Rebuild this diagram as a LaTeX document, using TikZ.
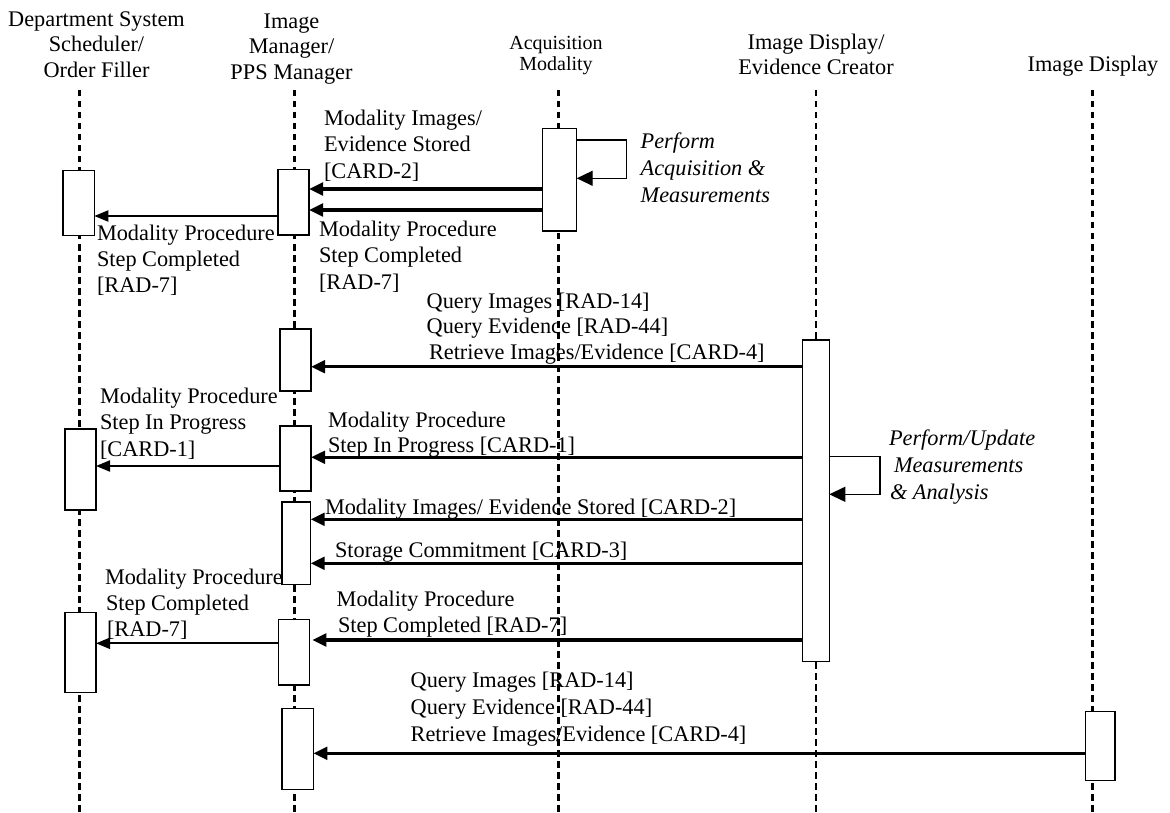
\documentclass[tikz,border=0pt]{standalone}
\usepackage{fontspec}
\setmainfont{Liberation Serif}
\usetikzlibrary{arrows.meta}
\begin{document}
\begin{tikzpicture}[x=1pt,y=-1pt,
  lbl/.style={inner sep=0pt, outer sep=0pt, align=left, anchor=north west, font=\fontsize{22.3}{26.3}\selectfont},
  hdr/.style={inner sep=0pt, outer sep=0pt, align=center, anchor=north, font=\fontsize{22.3}{25.5}\selectfont},
  act/.style={draw, fill=white, line width=1.3pt, inner sep=0pt, outer sep=0pt},
  life/.style={line width=2.6pt, dash pattern=on 6.5pt off 4.5pt},
  msg/.style={line width=3.4pt, -{Triangle[length=14pt,width=12.5pt]}},
  msgthin/.style={line width=2pt, -{Triangle[length=14pt,width=11pt]}},
  selfmsg/.style={line width=1.3pt, -{Triangle[length=16pt,width=15pt]}},
]
\useasboundingbox (0,0) rectangle (1170,813);

% headers
\node[hdr] (hdss) at (96.5,11.4) {Department System\\Scheduler/\\Order Filler};
\node[hdr] (him) at (291.5,13.4) {Image\\Manager/\\PPS Manager};
\node[hdr, font=\fontsize{20}{21.3}\selectfont] (ham) at (556,35.9) {Acquisition\\Modality};
\node[hdr] (hidec) at (816,34) {Image Display/\\Evidence Creator};
\node[hdr] (hid) at (1093,55.7) {Image Display};

% lifelines
\coordinate (dssT) at (79.3,90);   \coordinate (dssB) at (79.3,813);
\coordinate (imT) at (294.3,90);   \coordinate (imB) at (294.3,813);
\coordinate (amT) at (558.3,90);   \coordinate (amB) at (558.3,813);
\coordinate (idecT) at (816,90);   \coordinate (idecB) at (816,813);
\coordinate (idT) at (1092.7,90);  \coordinate (idB) at (1092.7,813);
\draw[life] (dssT) -- (dssB);
\draw[life] (imT) -- (imB);
\draw[life] (amT) -- (amB);
\draw[life] (idecT) -- (idecB);
\draw[life] (idT) -- (idB);

% activation boxes
\node[act, minimum width=31.3pt, minimum height=65pt] (dss1) at (78.65,203.2) {};
\node[act, minimum width=31pt, minimum height=65.3pt] (im1) at (293.5,202.35) {};
\node[act, minimum width=34pt, minimum height=102.3pt] (am1) at (559.7,179.85) {};
\node[act, minimum width=31pt, minimum height=62pt] (im2) at (295.5,360) {};
\node[act, minimum width=26.6pt, minimum height=321.7pt] (idec1) at (816,500.85) {};
\node[act, minimum width=31pt, minimum height=81pt] (dss2) at (80.5,469.5) {};
\node[act, minimum width=31pt, minimum height=65pt] (im3) at (295.5,458.5) {};
\node[act, minimum width=28.7pt, minimum height=82.7pt] (im4) at (296.35,543.35) {};
\node[act, minimum width=31pt, minimum height=80.4pt] (dss3) at (80.5,652.5) {};
\node[act, minimum width=31pt, minimum height=65.7pt] (im5) at (293.8,652.15) {};
\node[act, minimum width=31.3pt, minimum height=81pt] (im6) at (297.65,748.8) {};
\node[act, minimum width=29.3pt, minimum height=69pt] (id1) at (1100.35,746.2) {};

% messages
\draw[msg] (am1.west |- 0,189) -- (im1.east |- 0,189);
\draw[msg] (am1.west |- 0,210) -- (im1.east |- 0,210);
\draw[msgthin] (im1.west |- 0,216) -- (dss1.east |- 0,216);
\draw[selfmsg] (am1.east |- 0,140) -- ++(50,0) |- (am1.east |- 0,178.3);

\draw[msg] (idec1.west |- 0,366.7) -- (im2.east |- 0,366.7);
\draw[msg] (idec1.west |- 0,457.3) -- (im3.east |- 0,457.3);
\draw[msgthin] (im3.west |- 0,466) -- (dss2.east |- 0,466);
\draw[selfmsg] (idec1.east |- 0,456.7) -- ++(50.7,0) |- (idec1.east |- 0,494.3);
\draw[msg] (idec1.west |- 0,519.3) -- (im4.east |- 0,519.3);
\draw[msg] (idec1.west |- 0,563.3) -- (im4.east |- 0,563.3);
\draw[msg] (idec1.west |- 0,640) -- ([xshift=3pt]im5.east |- 0,640);
\draw[msgthin] (im5.west |- 0,643.3) -- (dss3.east |- 0,643.3);
\draw[msg] (id1.west |- 0,753.3) -- (im6.east |- 0,753.3);

% labels
\node[lbl] (l1) at (324,110.2) {Modality Images/\\Evidence Stored\\{[CARD-2]}};
\node[lbl] (l2) at (319,221.2) {Modality Procedure\\Step Completed\\{[RAD-7]}};
\node[lbl] (l3) at (97,224.9) {Modality Procedure\\Step Completed\\{[RAD-7]}};
\node[lbl, font=\fontsize{22.3}{27}\selectfont\itshape] (l4) at (640.7,132.9) {Perform\\Acquisition \&\\Measurements};
\node[lbl, font=\fontsize{22.3}{25.5}\selectfont] (l5) at (426.7,292.9) {Query Images [RAD-14]\\Query Evidence [RAD-44]\\\hspace*{2.3pt}Retrieve Images/Evidence [CARD-4]};
\node[lbl] (l6) at (100,388.2) {Modality Procedure\\Step In Progress\\{[CARD-1]}};
\node[lbl, font=\fontsize{22.3}{24.5}\selectfont] (l7) at (328,412.2) {Modality Procedure\\Step In Progress [CARD-1]};
\node[lbl, font=\fontsize{22.3}{27}\selectfont\itshape] (l8) at (889,430.2) {Perform/Update\\\hspace*{5pt}Measurements\\\hspace*{1pt}\& Analysis};
\node[lbl] (l9) at (325,498.9) {Modality Images/ Evidence Stored [CARD-2]};
\node[lbl] (l10) at (335,542.2) {Storage Commitment [CARD-3]};
\node[lbl] (l11) at (105,568.9) {Modality Procedure\\\hspace*{1pt}Step Completed\\\hspace*{2pt}[RAD-7]};
\node[lbl] (l12) at (336.7,591.2) {Modality Procedure\\\hspace*{1.3pt}Step Completed [RAD-7]};
\node[lbl, font=\fontsize{22.3}{26.7}\selectfont] (l13) at (410.7,672.2) {Query Images [RAD-14]\\Query Evidence [RAD-44]\\Retrieve Images/Evidence [CARD-4]};
\end{tikzpicture}
\end{document}
